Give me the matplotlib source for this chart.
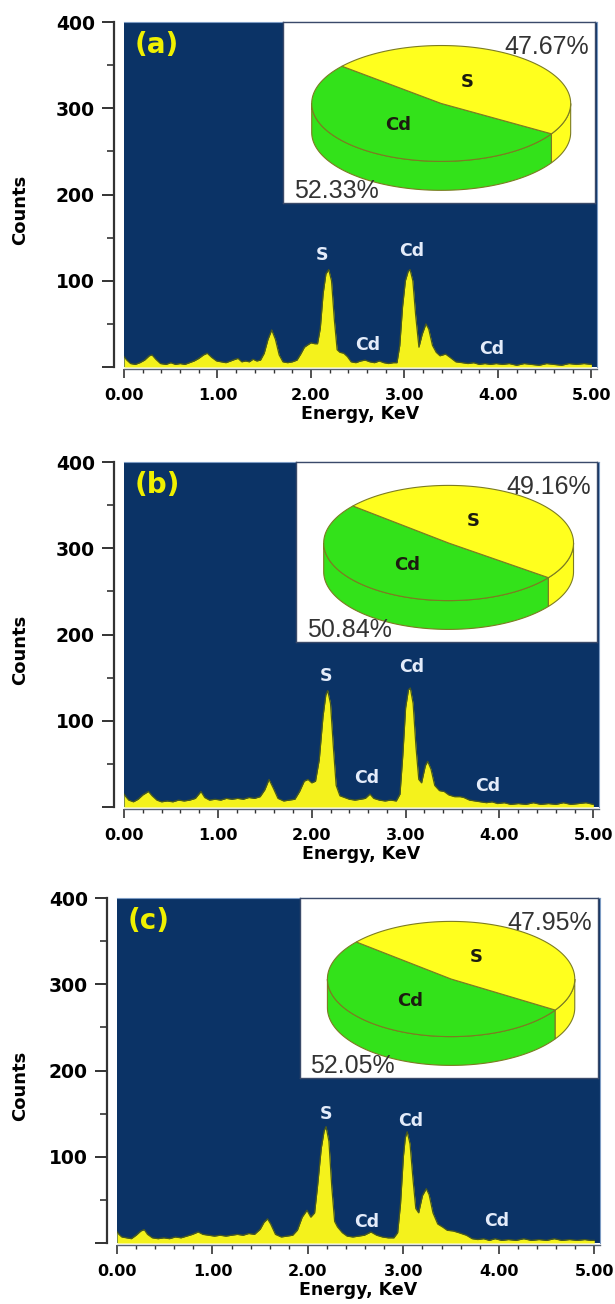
import numpy as np
import matplotlib
matplotlib.use('Agg')
import matplotlib.pyplot as plt
from matplotlib.patches import Polygon
from matplotlib.ticker import FixedLocator, FixedFormatter, MultipleLocator

# figure size in pixels (dpi 100)
W, H = 615, 1304

NAVY = '#0b3366'
SPEC_YELLOW = '#f4f21c'
SPEC_EDGE = '#4a5a1c'
PIE_GREEN = '#33e21a'
PIE_YELLOW = '#ffff1e'
PIE_EDGE = '#7c7c22'
TAG_YELLOW = '#f0f000'
PEAK_TXT = '#e4ecfa'

# ---- data ----
PANEL_TAGS = ['(a)', '(b)', '(c)']
CD_PCT = [52.33, 50.84, 52.05]
S_PCT = [47.67, 49.16, 47.95]
PEAK_NAMES = ['S', 'Cd', 'Cd', 'Cd']

ENERGY_A = [0.00, 0.03, 0.07, 0.12, 0.17, 0.22, 0.27, 0.30, 0.34, 0.39, 0.45, 0.50,
            0.55, 0.60, 0.65, 0.70, 0.75, 0.80, 0.85, 0.89, 0.94, 0.99, 1.04, 1.09,
            1.14, 1.19, 1.22, 1.26, 1.30, 1.34, 1.38, 1.42, 1.46, 1.50, 1.54, 1.58,
            1.62, 1.66, 1.70, 1.75, 1.80, 1.85, 1.89, 1.93, 1.97, 2.00, 2.04, 2.07,
            2.10, 2.13, 2.16, 2.19, 2.22, 2.25, 2.28, 2.31, 2.35, 2.39, 2.43, 2.48,
            2.53, 2.58, 2.63, 2.68, 2.73, 2.78, 2.83, 2.88, 2.92, 2.95, 2.98, 3.01,
            3.04, 3.06, 3.09, 3.12, 3.155, 3.19, 3.23, 3.26, 3.30, 3.34, 3.38, 3.44,
            3.49, 3.55, 3.62, 3.68, 3.74, 3.80, 3.86, 3.92, 3.98, 4.05, 4.12, 4.20,
            4.28, 4.36, 4.44, 4.52, 4.60, 4.68, 4.76, 4.84, 4.92, 5.00]
COUNTS_A = [12, 8, 4, 3, 5, 8, 13, 14, 9, 4, 3, 5,
            3, 4, 3, 5, 7, 10, 14, 16, 11, 7, 6, 5,
            7, 9, 10, 6, 7, 6, 9, 7, 8, 16, 32, 43,
            32, 14, 6, 5, 6, 8, 15, 23, 26, 28, 27, 27,
            45, 85, 108, 113, 100, 55, 20, 17, 16, 12, 6, 5,
            7, 8, 6, 5, 7, 5, 4, 5, 5, 25, 70, 100,
            111, 113, 100, 60, 23, 38, 50, 44, 25, 17, 13, 15,
            11, 6, 5, 4, 5, 3, 4, 3, 4, 3, 4, 2,
            4, 3, 2, 4, 3, 2, 4, 3, 4, 3]

ENERGY_B = [0.00, 0.02, 0.05, 0.10, 0.15, 0.20, 0.26, 0.30, 0.35, 0.40, 0.46, 0.52,
            0.58, 0.64, 0.70, 0.76, 0.82, 0.86, 0.91, 0.97, 1.03, 1.09, 1.15, 1.21,
            1.27, 1.33, 1.39, 1.45, 1.50, 1.545, 1.59, 1.64, 1.70, 1.76, 1.82, 1.87,
            1.92, 1.96, 2.00, 2.04, 2.08, 2.12, 2.15, 2.17, 2.20, 2.23, 2.26, 2.30,
            2.35, 2.40, 2.46, 2.52, 2.57, 2.62, 2.66, 2.72, 2.78, 2.84, 2.90, 2.94,
            2.97, 3.00, 3.03, 3.05, 3.08, 3.11, 3.14, 3.17, 3.21, 3.235, 3.27, 3.31,
            3.36, 3.41, 3.46, 3.52, 3.58, 3.62, 3.68, 3.74, 3.80, 3.86, 3.92, 3.98,
            4.05, 4.12, 4.20, 4.28, 4.36, 4.44, 4.52, 4.60, 4.68, 4.76, 4.84, 4.92, 5.00]
COUNTS_B = [15, 12, 8, 6, 9, 14, 18, 13, 8, 6, 7, 6,
            8, 7, 8, 10, 18, 11, 8, 9, 8, 10, 9, 10,
            9, 11, 10, 12, 20, 32, 22, 10, 7, 8, 9, 18,
            30, 32, 28, 30, 55, 105, 130, 135, 120, 70, 25, 13,
            11, 9, 8, 9, 10, 15, 10, 8, 7, 8, 7, 15,
            60, 115, 136, 138, 120, 70, 32, 28, 48, 53, 44, 25,
            19, 18, 14, 12, 12, 11, 8, 7, 6, 5, 6, 4,
            5, 3, 4, 3, 5, 3, 4, 3, 5, 3, 4, 5, 3]

ENERGY_C = [0.00, 0.02, 0.05, 0.10, 0.15, 0.20, 0.25, 0.285, 0.32, 0.37, 0.43, 0.49,
            0.55, 0.61, 0.67, 0.73, 0.79, 0.85, 0.90, 0.96, 1.02, 1.08, 1.14, 1.20,
            1.26, 1.32, 1.38, 1.44, 1.50, 1.54, 1.577, 1.61, 1.66, 1.72, 1.78, 1.84,
            1.89, 1.94, 1.99, 2.03, 2.07, 2.10, 2.14, 2.17, 2.19, 2.22, 2.25, 2.28,
            2.31, 2.36, 2.41, 2.47, 2.53, 2.59, 2.66, 2.72, 2.78, 2.84, 2.90, 2.94,
            2.97, 3.00, 3.02, 3.04, 3.07, 3.10, 3.13, 3.16, 3.20, 3.24, 3.27, 3.31,
            3.36, 3.41, 3.46, 3.52, 3.58, 3.66, 3.72, 3.78, 3.84, 3.90, 3.96, 4.03,
            4.10, 4.18, 4.26, 4.34, 4.42, 4.50, 4.58, 4.66, 4.74, 4.82, 4.90, 4.96, 5.00]
COUNTS_C = [13, 10, 7, 6, 5, 9, 14, 15.5, 10, 6, 5, 6,
            5, 7, 6, 8, 10, 12.8, 10, 9, 8, 9, 8, 9,
            10, 9, 11, 10, 16, 24, 28, 22, 10, 7, 8, 9,
            15, 30, 38, 30, 35, 65, 110, 130, 135, 118, 65, 25,
            18.6, 12, 8, 7, 8, 9, 12.8, 9, 7, 6, 6, 12,
            45, 100, 122, 129, 115, 75, 40, 35, 55, 63, 56, 35,
            22, 18.6, 14.7, 14, 12, 9, 5, 4, 5, 3, 5, 3,
            4, 3, 5, 3, 4, 3, 5, 3, 4, 3, 4, 3, 3]

# peak label anchors (energy, counts) per panel
PEAK_POS = [
    [(2.12, 130), (3.08, 134), (2.61, 25), (3.93, 21)],
    [(2.15, 152), (3.06, 162), (2.58, 34), (3.87, 24)],
    [(2.19, 150), (3.08, 142), (2.62, 24), (3.98, 26)],
]

# layout in pixels: (left, top, right, bottom)
AX_PX = [(124, 22, 597, 367), (124, 462, 599, 807), (117, 898, 600, 1243)]
INSET_PX = [(283, 22, 595, 203), (296, 462, 597, 642), (300, 898, 598, 1078)]
YLABEL_X = 29


def px_rect(box):
    l, t, r, b = box
    return [l / W, 1 - b / H, (r - l) / W, (b - t) / H]


def front_parts(a0, a1):
    # parts of the angle range [a0, a1] lying in the front half of the disc
    parts = []
    for lo, hi in ((180, 360), (540, 720)):
        u0, u1 = max(a0, lo), min(a1, hi)
        if u1 > u0:
            parts.append((u0, u1))
    return parts


def draw_pie(iax, cd, s):
    iax.set_xlim(0, 1)
    iax.set_ylim(0, 1)
    cx, cy, rx, ry, dep = 0.507, 0.55, 0.415, 0.32, 0.16
    start = 140.0
    mid = start + 360.0 * cd / (cd + s)
    wedges = [(start, mid, PIE_GREEN), (mid, start + 360.0, PIE_YELLOW)]
    # side walls
    for a0, a1, col in wedges:
        for u0, u1 in front_parts(a0, a1):
            t = np.radians(np.linspace(u0, u1, 80))
            xs = cx + rx * np.cos(t)
            ys = cy + ry * np.sin(t)
            pts = np.column_stack([np.r_[xs, xs[::-1]], np.r_[ys, ys[::-1] - dep]])
            iax.add_patch(Polygon(pts, closed=True, fc=col, ec=PIE_EDGE, lw=0.8))
    # top faces
    for a0, a1, col in wedges:
        t = np.radians(np.linspace(a0, a1, 160))
        pts = np.column_stack([np.r_[cx, cx + rx * np.cos(t)], np.r_[cy, cy + ry * np.sin(t)]])
        iax.add_patch(Polygon(pts, closed=True, fc=col, ec=PIE_EDGE, lw=0.8))
    iax.text(0.59, 0.67, 'S', fontsize=13, fontweight='bold', color='#1c1c10',
             ha='center', va='center')
    iax.text(0.37, 0.43, 'Cd', fontsize=13, fontweight='bold', color='#1c1c10',
             ha='center', va='center')
    iax.text(0.98, 0.86, '%.2f%%' % s, fontsize=18, color='#333333',
             family=['Liberation Sans', 'DejaVu Sans'], ha='right', va='center')
    iax.text(0.035, 0.065, '%.2f%%' % cd, fontsize=18, color='#333333',
             family=['Liberation Sans', 'DejaVu Sans'], ha='left', va='center')


def draw_panel(fig, k, energy, counts):
    l, t, r, b = AX_PX[k]
    ax = fig.add_axes(px_rect(AX_PX[k]))
    ax.set_facecolor(NAVY)
    ax.fill_between(energy, counts, 0, color=SPEC_YELLOW, lw=0, zorder=2)
    ax.plot(energy, counts, color=SPEC_EDGE, lw=0.9, zorder=3)
    ax.set_xlim(0, 5.06)
    ax.set_ylim(0, 400)

    ax.spines['left'].set_position(('outward', 7))
    ax.spines['bottom'].set_position(('outward', 1.5))
    ax.spines['left'].set_color('#333333')
    ax.spines['left'].set_linewidth(1.6)
    ax.spines['bottom'].set_color('#56606e')
    ax.spines['bottom'].set_linewidth(1.0)
    for side in ('top', 'right'):
        ax.spines[side].set_color('#7d9cc4')
        ax.spines[side].set_linewidth(0.8)

    ax.yaxis.set_major_locator(FixedLocator([0, 100, 200, 300, 400]))
    ax.yaxis.set_major_formatter(FixedFormatter(['', '100', '200', '300', '400']))
    ax.yaxis.set_minor_locator(FixedLocator([50, 150, 250, 350]))
    ax.xaxis.set_major_locator(FixedLocator([0, 1, 2, 3, 4, 5]))
    ax.xaxis.set_major_formatter(FixedFormatter(['0.00', '1.00', '2.00', '3.00', '4.00', '5.00']))
    ax.xaxis.set_minor_locator(MultipleLocator(0.2))
    ax.tick_params(axis='y', which='major', length=9, width=1.4, color='#333333',
                   pad=5, labelsize=13.5)
    ax.tick_params(axis='y', which='minor', length=5, width=1.2, color='#333333')
    ax.tick_params(axis='x', which='major', length=6.5, width=1.2, color='#333333',
                   pad=7, labelsize=11.5)
    ax.tick_params(axis='x', which='minor', length=3, width=1.0, color='#333333')
    for lab in ax.get_xticklabels() + ax.get_yticklabels():
        lab.set_fontweight('bold')

    ax.set_xlabel('Energy, KeV', fontsize=12.5, fontweight='bold', labelpad=1.5)
    ax.set_ylabel('Counts', fontsize=13, fontweight='bold')
    ax.yaxis.set_label_coords((YLABEL_X - l) / (r - l), 0.455)

    ax.text(0.022, 0.975, PANEL_TAGS[k], transform=ax.transAxes, fontsize=20,
            fontweight='bold', color=TAG_YELLOW, ha='left', va='top')

    for name, (e, c) in zip(PEAK_NAMES, PEAK_POS[k]):
        ax.text(e, c, name, fontsize=12.5, fontweight='bold', color=PEAK_TXT,
                ha='center', va='center', zorder=4)

    iax = fig.add_axes(px_rect(INSET_PX[k]))
    iax.set_facecolor('white')
    iax.set_xticks([])
    iax.set_yticks([])
    for sp in iax.spines.values():
        sp.set_color('#3a4a6a')
        sp.set_linewidth(1.0)
    draw_pie(iax, CD_PCT[k], S_PCT[k])


plt.rcParams['font.family'] = ['DejaVu Sans']
fig = plt.figure(figsize=(W / 100, H / 100), dpi=100)
fig.patch.set_facecolor('white')

draw_panel(fig, 0, ENERGY_A, COUNTS_A)
draw_panel(fig, 1, ENERGY_B, COUNTS_B)
draw_panel(fig, 2, ENERGY_C, COUNTS_C)

fig.savefig('out.png', dpi=100, facecolor='white')
